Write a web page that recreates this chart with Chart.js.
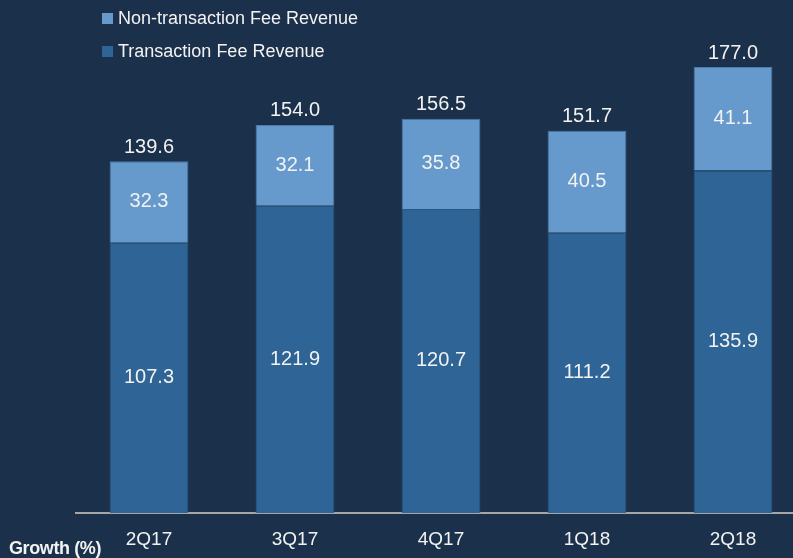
<!DOCTYPE html>
<html>
<head>
<meta charset="utf-8">
<script src="https://cdn.jsdelivr.net/npm/chart.js@4"></script>
<style>
  html, body { margin: 0; padding: 0; background: #1b304a; overflow: hidden; width: 793px; height: 558px; }
  #wrap { position: absolute; left: 0; top: 0; width: 806px; height: 558px; }
  .legend { position: absolute; left: 102px; font: 18px "Liberation Sans", Arial, sans-serif; color: #f2f2f2; display: flex; align-items: center; }
  .legend i { display: inline-block; width: 11px; height: 11px; margin-right: 5px; }
  #growth { position: absolute; left: 9px; top: 538px; font: bold 18px "Liberation Sans", Arial, sans-serif; color: #f2f2f2; letter-spacing: -0.4px; }
</style>
</head>
<body>
<div id="wrap"><canvas id="myChart" width="806" height="558"></canvas></div>
<div class="legend" style="top:8px"><i style="background:#6699cc"></i>Non-transaction Fee Revenue</div>
<div class="legend" style="top:41px"><i style="background:#2f6496"></i>Transaction Fee Revenue</div>
<div id="growth">Growth (%)</div>
<script>
const quarters = ['2Q17', '3Q17', '4Q17', '1Q18', '2Q18'];
const transactionFee = [107.3, 121.9, 120.7, 111.2, 135.9];
const nonTransactionFee = [32.3, 32.1, 35.8, 40.5, 41.1];
const totals = ['139.6', '154.0', '156.5', '151.7', '177.0'];

const labelPlugin = {
    id: 'barLabels',
    afterDatasetsDraw(chart) {
        const ctx = chart.ctx;
        ctx.save();
        ctx.fillStyle = '#f2f2f2';
        ctx.font = '20px "Liberation Sans", Arial, sans-serif';
        ctx.textAlign = 'center';
        ctx.textBaseline = 'middle';
        chart.data.datasets.forEach((ds, i) => {
            chart.getDatasetMeta(i).data.forEach((bar, j) => {
                ctx.fillText(ds.data[j].toFixed(1), bar.x, (bar.y + bar.base) / 2);
                if (i === 1) {
                    ctx.fillText(totals[j], bar.x, bar.y - 14);
                }
            });
        });
        ctx.restore();
    }
};

const ctx = document.getElementById('myChart');
new Chart(ctx, {
    type: 'bar',
    data: {
        labels: quarters,
        datasets: [{
            label: 'Transaction Fee Revenue',
            data: transactionFee,
            backgroundColor: '#2f6496',
            borderColor: '#2a5780',
            borderWidth: 1,
            categoryPercentage: 0.54,
            barPercentage: 1
        }, {
            label: 'Non-transaction Fee Revenue',
            data: nonTransactionFee,
            backgroundColor: '#6699cc',
            borderColor: '#4d7aa8',
            borderWidth: 1,
            categoryPercentage: 0.54,
            barPercentage: 1
        }]
    },
    options: {
        responsive: false,
        animation: false,
        layout: { padding: { left: 76, right: 0, top: 0, bottom: 0 } },
        plugins: {
            legend: { display: false },
            tooltip: { enabled: false }
        },
        scales: {
            x: {
                stacked: true,
                grid: { display: false, drawTicks: false },
                border: { display: true, color: '#a6a6a6', width: 2 },
                ticks: { color: '#f2f2f2', font: { size: 19, family: '"Liberation Sans", Arial, sans-serif' }, padding: 15 },
                afterFit(scale) { scale.height = 45; }
            },
            y: {
                stacked: true,
                display: false,
                min: 0,
                max: 203.6
            }
        }
    },
    plugins: [labelPlugin]
});
</script>
</body>
</html>
